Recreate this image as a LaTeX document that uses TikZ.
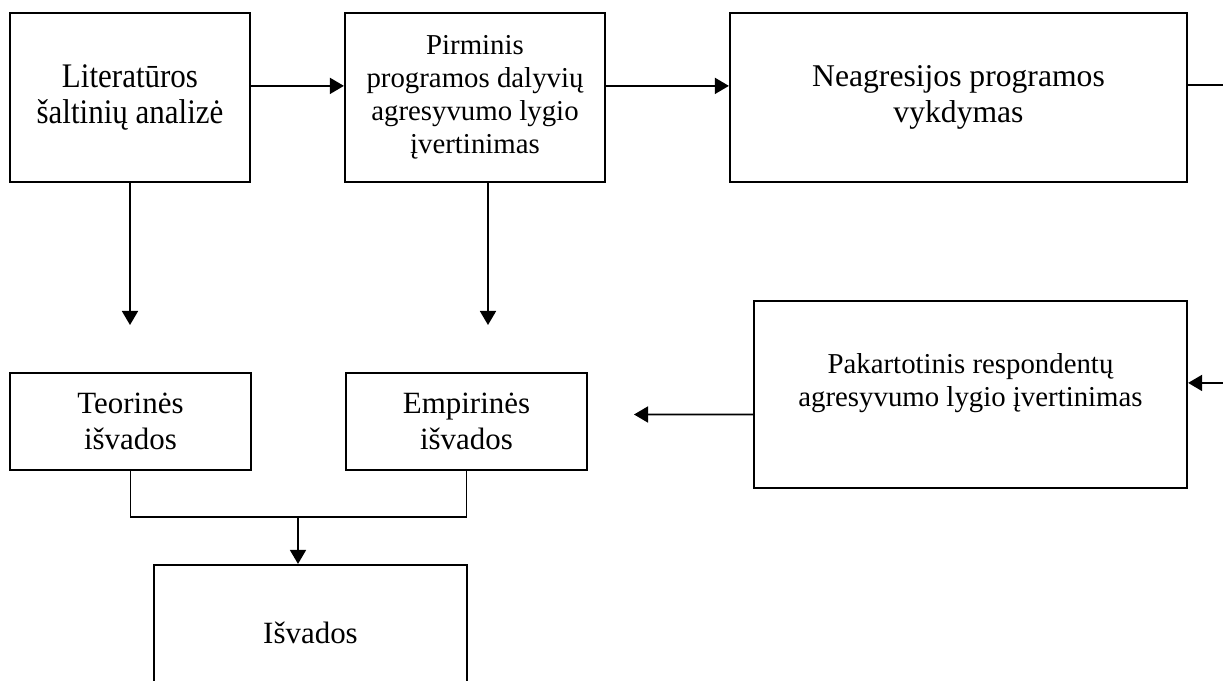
\documentclass[tikz,border=0pt]{standalone}
\usepackage{fontspec}
\setmainfont{Liberation Serif}
\newfontfamily\aukstas{Liberation Serif}[FakeStretch=0.9]
\usetikzlibrary{arrows.meta}
\tikzset{>={Triangle[length=3.5mm,width=4mm]}}
\tikzstyle{blok}=[draw,line width=1.5pt,align=center,inner sep=0pt,font=\fontsize{22}{26}\selectfont]
\tikzstyle{blok mazas}=[blok,font=\fontsize{20.5}{23.5}\selectfont]
\tikzstyle{ryslys}=[line width=1.2pt]

\begin{document}
\begin{tikzpicture}[x=0.025cm,y=-0.025cm]
  \useasboundingbox (0,0) rectangle (1223,681);
  \clip (0,0) rectangle (1223,681);
  % virsutine eile
  \node[blok,minimum width=6cm,minimum height=4.225cm,font=\aukstas\fontsize{24.5}{26.2}\selectfont] (lit) at (130,97.5) {Literatūros\\šaltinių analizė};
  \node[blok mazas,minimum width=6.5cm,minimum height=4.225cm] (pirm) at (475,97.5) {Pirminis\\programos dalyvių\\agresyvumo lygio\\įvertinimas};
  \node[blok,minimum width=11.425cm,minimum height=4.225cm,font=\fontsize{22.5}{25.8}\selectfont] (neag) at (958.5,97.5) {Neagresijos programos\\vykdymas};
  % apatine dalis
  \node[blok,minimum width=6.025cm,minimum height=2.425cm] (teor) at (130.5,421.5) {Teorinės\\išvados};
  \node[blok,minimum width=6.025cm,minimum height=2.425cm] (emp) at (466.5,421.5) {Empirinės\\išvados};
  \node[blok,minimum width=10.825cm,minimum height=4.675cm] (pak) at (970.5,394.5) {};
  \node[blok mazas,draw=none] (pakt) at ([yshift=0.275cm]pak.center) {Pakartotinis respondentų\\agresyvumo lygio įvertinimas};
  \node[blok,minimum width=7.825cm,minimum height=3.4cm] (isv) at (310.5,633) {Išvados};

  \coordinate (litGal) at (130,325);
  \coordinate (pirmGal) at (488,325);
  \coordinate (neagGal) at (1223,85);
  \coordinate (pakPr) at (1223,383);
  \coordinate (pakGal) at (634,414.5);
  \coordinate (jung) at (298,517);

  \draw[ryslys,->] ([yshift=0.29cm]lit.east) -- ([yshift=0.29cm]pirm.west);
  \draw[ryslys,->] ([yshift=0.29cm]pirm.east) -- ([yshift=0.29cm]neag.west);
  \draw[ryslys] ([yshift=0.31cm]neag.east) -- (neagGal);
  \draw[ryslys,->] (pakPr) -- ([yshift=0.29cm]pak.east);
  \draw[ryslys,->] ([yshift=-0.5cm]pak.west) -- (pakGal);
  \draw[ryslys,->] (lit.south) -- (litGal);
  \draw[ryslys,->] ([xshift=0.325cm]pirm.south) -- (pirmGal);
  \draw[ryslys] (teor.south) |- (jung) -| (emp.south);
  \draw[ryslys,->] (jung) -- (jung |- isv.north);
\end{tikzpicture}
\end{document}
